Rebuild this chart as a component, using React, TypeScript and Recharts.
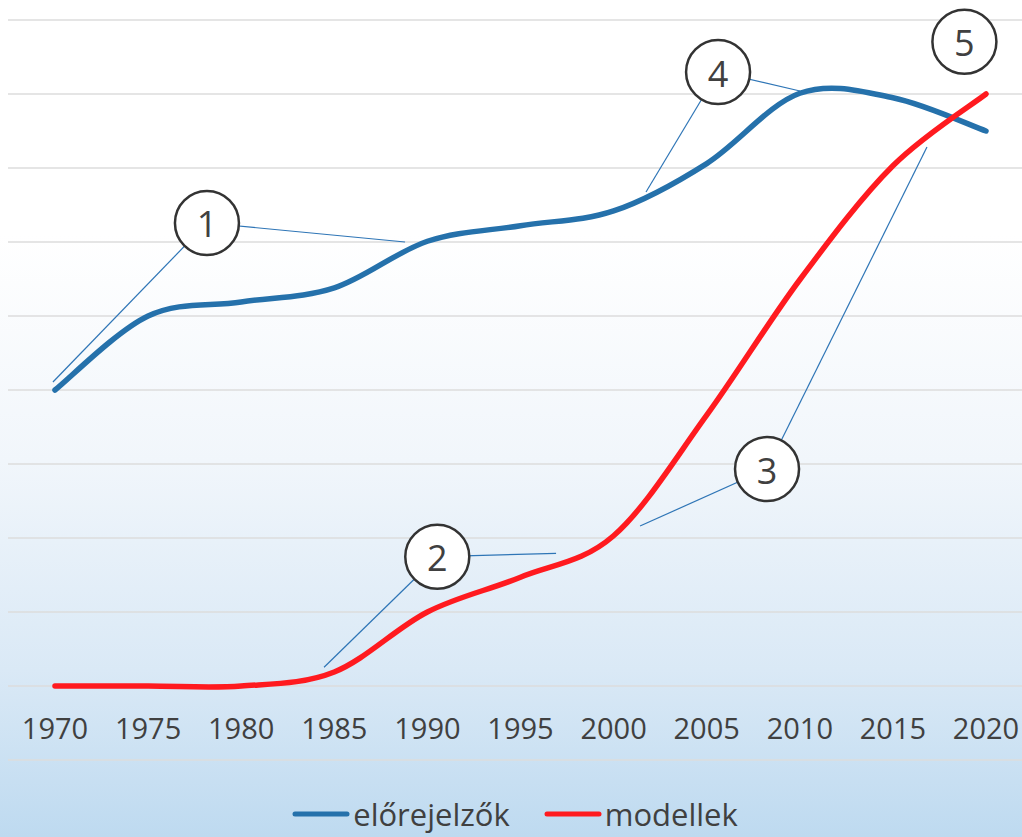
import React from 'react'
import {
  LineChart,
  Line,
  XAxis,
  YAxis,
  CartesianGrid,
  Legend,
  ReferenceDot,
  ReferenceLine,
} from 'recharts'

const years = [1970, 1975, 1980, 1985, 1990, 1995, 2000, 2005, 2010, 2015, 2020]
const elorejelzok = [4.0, 5.0, 5.19, 5.38, 6.01, 6.22, 6.42, 7.06, 8.01, 7.95, 7.5]
const modellek = [0, 0, 0, 0.19, 1.0, 1.47, 2.03, 3.66, 5.49, 7.03, 8.0]
const yTicks = [-1, 0, 1, 2, 3, 4, 5, 6, 7, 8, 9]

// numbered callouts: circle position plus the two points its leader lines run to
const calloutLabels = ['1', '2', '3', '4', '5']
const calloutX = [1978.16, 1990.53, 2008.24, 2005.61, 2018.84]
const calloutY = [6.257, 1.747, 2.932, 8.297, 8.707]
const leaderEnds: { x: number; y: number }[][] = [
  [{ x: 1969.89, y: 4.108 }, { x: 1988.8, y: 6.0 }],
  [{ x: 1984.45, y: 0.253 }, { x: 1996.91, y: 1.793 }],
  [{ x: 2001.42, y: 2.162 }, { x: 2016.83, y: 7.284 }],
  [{ x: 2001.74, y: 6.676 }, { x: 2010.01, y: 8.041 }],
  [],
]

const BLUE = '#2571ab'
const RED = '#ff1a1f'
const TEXT = '#404040'
const FONT = '"Open Sans", "Noto Sans", sans-serif'

const chartData = years.map((year, i) => ({
  year,
  elorejelzok: elorejelzok[i],
  modellek: modellek[i],
}))

// Excel-like smoothing (Catmull-Rom through every point)
const smoothCurve = (context: any) => {
  let pts: number[][] = []
  return {
    areaStart() {},
    areaEnd() {},
    lineStart() {
      pts = []
    },
    point(x: number, y: number) {
      pts.push([+x, +y])
    },
    lineEnd() {
      const n = pts.length
      if (!n) return
      context.moveTo(pts[0][0], pts[0][1])
      for (let i = 0; i < n - 1; i++) {
        const p0 = pts[i - 1] || pts[i]
        const p1 = pts[i]
        const p2 = pts[i + 1]
        const p3 = pts[i + 2] || p2
        context.bezierCurveTo(
          p1[0] + (p2[0] - p0[0]) / 6,
          p1[1] + (p2[1] - p0[1]) / 6,
          p2[0] - (p3[0] - p1[0]) / 6,
          p2[1] - (p3[1] - p1[1]) / 6,
          p2[0],
          p2[1]
        )
      }
    },
  }
}

const YearTick = (props: any) => {
  const { x, y, payload } = props
  return (
    <text
      x={x}
      y={y - 33}
      textAnchor="middle"
      dominantBaseline="central"
      fill={TEXT}
      fontSize={29}
      fontFamily={FONT}
    >
      {payload.value}
    </text>
  )
}

const legendItems = [
  { name: 'előrejelzők', color: BLUE },
  { name: 'modellek', color: RED },
]

const LegendContent = () => (
  <div
    style={{
      display: 'flex',
      justifyContent: 'center',
      alignItems: 'flex-start',
      height: 42,
      fontFamily: FONT,
      fontSize: 31,
      color: TEXT,
    }}
  >
    {legendItems.map((item, i) => (
      <div key={item.name} style={{ display: 'flex', alignItems: 'center', marginLeft: i ? 34 : 0, height: 38 }}>
        <svg width={58} height={10} style={{ marginRight: 3 }}>
          <line x1={3} y1={5} x2={55} y2={5} stroke={item.color} strokeWidth={5} strokeLinecap="round" />
        </svg>
        <span style={{ lineHeight: '38px' }}>{item.name}</span>
      </div>
    ))}
  </div>
)

const makeBubble = (label: string) => (props: any) => {
  const { cx, cy } = props
  return (
    <g>
      <circle cx={cx} cy={cy} r={32} fill="#ffffff" stroke="#333333" strokeWidth={2.5} />
      <text
        x={cx}
        y={cy + 1}
        textAnchor="middle"
        dominantBaseline="central"
        fill={TEXT}
        fontSize={36}
        fontFamily={FONT}
      >
        {label}
      </text>
    </g>
  )
}

export default function App() {
  return (
    <div
      style={{
        position: 'fixed',
        left: 0,
        top: 0,
        width: 1022,
        height: 837,
        background:
          'linear-gradient(to bottom, #ffffff 0%, #ffffff 28%, #f1f6fb 55%, #dae9f6 80%, #bedaf0 100%)',
      }}
    >
      <LineChart
        width={1022}
        height={837}
        data={chartData}
        margin={{ top: 20, right: 0, bottom: 0, left: 8 }}
      >
        <CartesianGrid horizontal vertical={false} stroke="#dcdcdc" strokeWidth={1.5} />
        <XAxis
          dataKey="year"
          type="number"
          domain={[1967.476, 2021.933]}
          ticks={years}
          allowDataOverflow
          axisLine={false}
          tickLine={false}
          tickSize={0}
          tickMargin={0}
          height={35}
          tick={<YearTick />}
          interval={0}
        />
        <YAxis hide domain={[-1, 9]} ticks={yTicks} allowDataOverflow />
        <Legend verticalAlign="bottom" content={<LegendContent />} />
        {leaderEnds.map((ends, i) =>
          ends.map((end, j) => (
            <ReferenceLine
              key={`leader-${i}-${j}`}
              segment={[{ x: calloutX[i], y: calloutY[i] }, end]}
              stroke="#2e75b6"
              strokeWidth={1.2}
              ifOverflow="visible"
            />
          ))
        )}
        <Line
          dataKey="elorejelzok"
          name="előrejelzők"
          type={smoothCurve as any}
          stroke={BLUE}
          strokeWidth={5.5}
          strokeLinecap="round"
          dot={false}
          activeDot={false}
          isAnimationActive={false}
        />
        <Line
          dataKey="modellek"
          name="modellek"
          type={smoothCurve as any}
          stroke={RED}
          strokeWidth={5.5}
          strokeLinecap="round"
          dot={false}
          activeDot={false}
          isAnimationActive={false}
        />
        {calloutLabels.map((label, i) => (
          <ReferenceDot
            key={`bubble-${label}`}
            x={calloutX[i]}
            y={calloutY[i]}
            r={32}
            ifOverflow="visible"
            shape={makeBubble(label)}
          />
        ))}
      </LineChart>
    </div>
  )
}
